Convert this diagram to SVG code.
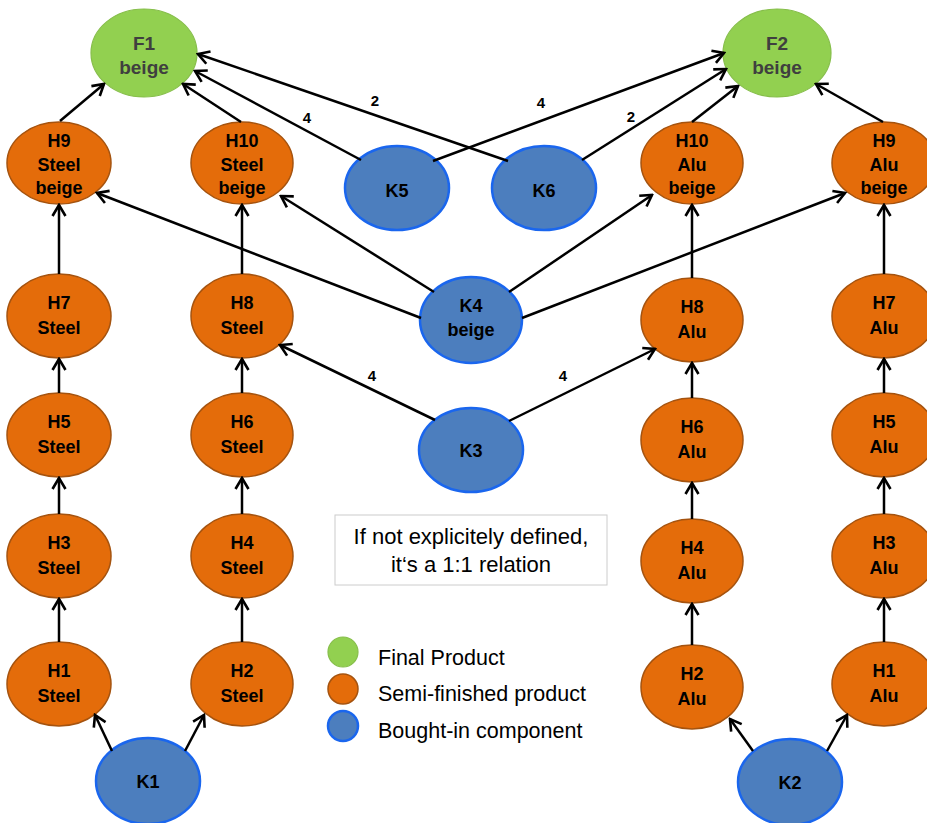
<svg xmlns="http://www.w3.org/2000/svg" width="927" height="823" viewBox="0 0 927 823">
<defs>
<marker id="arr" viewBox="-13 -9 15 18" markerWidth="15" markerHeight="18" refX="0" refY="0" orient="auto" markerUnits="userSpaceOnUse">
<path d="M-11,-6.5 L0,0 L-11,6.5" fill="none" stroke="#000" stroke-width="2.6" stroke-linejoin="miter"/>
</marker>
</defs>
<style>
.f{fill:#92D050;stroke:#86BE4A;stroke-width:1.2}
.h{fill:#E46C0A;stroke:#A5530F;stroke-width:1.5}
.k{fill:#4C7EBE;stroke:#1A66EE;stroke-width:2.5}
.t{font-family:"Liberation Sans",Arial,sans-serif;font-weight:bold;font-size:18px;text-anchor:middle;fill:#000}
.tf{font-family:"Liberation Sans",Arial,sans-serif;font-weight:bold;font-size:19px;text-anchor:middle;fill:#3F3F3F}
.e{stroke:#000;stroke-width:2.5;fill:none;marker-end:url(#arr)}
.lb{font-family:"Liberation Sans",Arial,sans-serif;font-weight:bold;font-size:15px;text-anchor:middle;fill:#000}
.lg{font-family:"Liberation Sans",Arial,sans-serif;font-size:21.5px;fill:#000}
.nb{font-family:"Liberation Sans",Arial,sans-serif;font-size:22px;fill:#000;text-anchor:middle}
</style>
<rect width="927" height="823" fill="#fff"/>

<g id="F1"><ellipse class="f" cx="144" cy="53" rx="53" ry="44"/><text class="tf" x="144" y="50">F1</text><text class="tf" x="144" y="74">beige</text></g>
<g id="F2"><ellipse class="f" cx="777" cy="53" rx="54" ry="44"/><text class="tf" x="777" y="50">F2</text><text class="tf" x="777" y="74">beige</text></g>

<g id="H9S"><ellipse class="h" cx="59" cy="163" rx="52" ry="41"/><text class="t" x="59" y="147">H9</text><text class="t" x="59" y="171">Steel</text><text class="t" x="59" y="194">beige</text></g>
<g id="H10S"><ellipse class="h" cx="242" cy="163" rx="51" ry="41"/><text class="t" x="242" y="147">H10</text><text class="t" x="242" y="171">Steel</text><text class="t" x="242" y="194">beige</text></g>
<g id="H10A"><ellipse class="h" cx="692" cy="163" rx="51" ry="41"/><text class="t" x="692" y="147">H10</text><text class="t" x="692" y="171">Alu</text><text class="t" x="692" y="194">beige</text></g>
<g id="H9A"><ellipse class="h" cx="884" cy="163" rx="52" ry="41"/><text class="t" x="884" y="147">H9</text><text class="t" x="884" y="171">Alu</text><text class="t" x="884" y="194">beige</text></g>

<g id="K5"><ellipse class="k" cx="397" cy="188" rx="52" ry="42"/><text class="t" x="397" y="197">K5</text></g>
<g id="K6"><ellipse class="k" cx="544" cy="188" rx="52" ry="42"/><text class="t" x="544" y="197">K6</text></g>

<g id="H7S"><ellipse class="h" cx="59" cy="316" rx="52" ry="42"/><text class="t" x="59" y="309">H7</text><text class="t" x="59" y="334">Steel</text></g>
<g id="H8S"><ellipse class="h" cx="242" cy="316" rx="51" ry="42"/><text class="t" x="242" y="309">H8</text><text class="t" x="242" y="334">Steel</text></g>
<g id="K4"><ellipse class="k" cx="471" cy="320" rx="51" ry="43"/><text class="t" x="471" y="312">K4</text><text class="t" x="471" y="336">beige</text></g>
<g id="H8A"><ellipse class="h" cx="692" cy="320" rx="51" ry="42"/><text class="t" x="692" y="313">H8</text><text class="t" x="692" y="338">Alu</text></g>
<g id="H7A"><ellipse class="h" cx="884" cy="316" rx="52" ry="42"/><text class="t" x="884" y="309">H7</text><text class="t" x="884" y="334">Alu</text></g>

<g id="H5S"><ellipse class="h" cx="59" cy="435" rx="52" ry="42"/><text class="t" x="59" y="428">H5</text><text class="t" x="59" y="453">Steel</text></g>
<g id="H6S"><ellipse class="h" cx="242" cy="435" rx="51" ry="42"/><text class="t" x="242" y="428">H6</text><text class="t" x="242" y="453">Steel</text></g>
<g id="K3"><ellipse class="k" cx="471" cy="450" rx="52" ry="42"/><text class="t" x="471" y="457">K3</text></g>
<g id="H6A"><ellipse class="h" cx="692" cy="440" rx="51" ry="42"/><text class="t" x="692" y="433">H6</text><text class="t" x="692" y="458">Alu</text></g>
<g id="H5A"><ellipse class="h" cx="884" cy="435" rx="52" ry="42"/><text class="t" x="884" y="428">H5</text><text class="t" x="884" y="453">Alu</text></g>

<g id="H3S"><ellipse class="h" cx="59" cy="556" rx="52" ry="42"/><text class="t" x="59" y="549">H3</text><text class="t" x="59" y="574">Steel</text></g>
<g id="H4S"><ellipse class="h" cx="242" cy="556" rx="51" ry="42"/><text class="t" x="242" y="549">H4</text><text class="t" x="242" y="574">Steel</text></g>
<g id="H4A"><ellipse class="h" cx="692" cy="561" rx="51" ry="42"/><text class="t" x="692" y="554">H4</text><text class="t" x="692" y="579">Alu</text></g>
<g id="H3A"><ellipse class="h" cx="884" cy="556" rx="52" ry="42"/><text class="t" x="884" y="549">H3</text><text class="t" x="884" y="574">Alu</text></g>

<g id="H1S"><ellipse class="h" cx="59" cy="684" rx="52" ry="42"/><text class="t" x="59" y="677">H1</text><text class="t" x="59" y="702">Steel</text></g>
<g id="H2S"><ellipse class="h" cx="242" cy="684" rx="51" ry="42"/><text class="t" x="242" y="677">H2</text><text class="t" x="242" y="702">Steel</text></g>
<g id="H2A"><ellipse class="h" cx="692" cy="687" rx="51" ry="42"/><text class="t" x="692" y="680">H2</text><text class="t" x="692" y="705">Alu</text></g>
<g id="H1A"><ellipse class="h" cx="884" cy="684" rx="52" ry="42"/><text class="t" x="884" y="677">H1</text><text class="t" x="884" y="702">Alu</text></g>

<g id="K1"><ellipse class="k" cx="148" cy="781" rx="52" ry="43"/><text class="t" x="148" y="788">K1</text></g>
<g id="K2"><ellipse class="k" cx="790" cy="782" rx="52" ry="43"/><text class="t" x="790" y="789">K2</text></g>

<g id="connectors">
<line class="e" x1="60" y1="121" x2="104" y2="84"/>
<line class="e" x1="241" y1="122" x2="183" y2="84"/>
<line class="e" x1="361" y1="160" x2="195" y2="71"/>
<line class="e" x1="508" y1="161" x2="198" y2="54"/>
<line class="e" x1="433" y1="161" x2="724" y2="53"/>
<line class="e" x1="582" y1="160" x2="726" y2="69"/>
<line class="e" x1="692" y1="122" x2="738" y2="86"/>
<line class="e" x1="883" y1="122" x2="816" y2="84"/>
<line class="e" x1="421" y1="318" x2="97" y2="193"/>
<line class="e" x1="434" y1="292" x2="281" y2="196"/>
<line class="e" x1="509" y1="292" x2="652" y2="195"/>
<line class="e" x1="522" y1="318" x2="845" y2="193"/>
<line class="e" x1="435" y1="420" x2="280" y2="345"/>
<line class="e" x1="509" y1="421" x2="655" y2="349"/>

<line class="e" x1="59" y1="642" x2="59" y2="599"/>
<line class="e" x1="59" y1="514" x2="59" y2="478"/>
<line class="e" x1="59" y1="393" x2="59" y2="359"/>
<line class="e" x1="59" y1="274" x2="59" y2="205"/>
<line class="e" x1="242" y1="642" x2="242" y2="599"/>
<line class="e" x1="242" y1="514" x2="242" y2="478"/>
<line class="e" x1="242" y1="393" x2="242" y2="359"/>
<line class="e" x1="242" y1="274" x2="242" y2="205"/>
<line class="e" x1="692" y1="645" x2="692" y2="604"/>
<line class="e" x1="692" y1="519" x2="692" y2="483"/>
<line class="e" x1="692" y1="398" x2="692" y2="363"/>
<line class="e" x1="692" y1="278" x2="692" y2="205"/>
<line class="e" x1="884" y1="642" x2="884" y2="599"/>
<line class="e" x1="884" y1="514" x2="884" y2="478"/>
<line class="e" x1="884" y1="393" x2="884" y2="359"/>
<line class="e" x1="884" y1="274" x2="884" y2="205"/>

<line class="e" x1="112" y1="751" x2="95" y2="715"/>
<line class="e" x1="185" y1="751" x2="204" y2="715"/>
<line class="e" x1="753" y1="751" x2="730" y2="719"/>
<line class="e" x1="827" y1="751" x2="847" y2="715"/>

<text class="lb" x="307" y="123">4</text>
<text class="lb" x="375" y="106">2</text>
<text class="lb" x="541" y="108">4</text>
<text class="lb" x="631" y="122">2</text>
<text class="lb" x="372" y="381">4</text>
<text class="lb" x="563" y="381">4</text>
</g>

<g id="note">
<rect x="335" y="515" width="272" height="70" fill="#fff" stroke="#CCCCCC" stroke-width="1"/>
<text class="nb" x="471" y="544">If not explicitely defined,</text>
<text class="nb" x="471" y="572">it‘s a 1:1 relation</text>
</g>

<g id="legend">
<circle class="f" cx="343" cy="652" r="15"/>
<circle class="h" cx="343" cy="689" r="15"/>
<circle class="k" cx="343" cy="726" r="15"/>
<text class="lg" x="378" y="665">Final Product</text>
<text class="lg" x="378" y="701">Semi-finished product</text>
<text class="lg" x="378" y="738">Bought-in component</text>
</g>
</svg>
